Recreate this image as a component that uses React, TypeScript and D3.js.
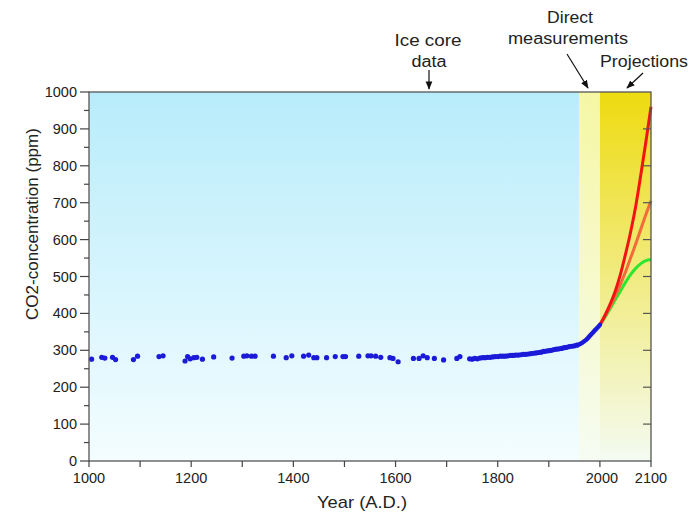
import React from 'react';
import * as d3 from 'd3';

// ice core samples (year, ppm)
const iceYears = [1005, 1025, 1031, 1046, 1052, 1087, 1095, 1137, 1145, 1188, 1193, 1198, 1205, 1211, 1222, 1244, 1280, 1303, 1309, 1318, 1325, 1361, 1386, 1397, 1420, 1430, 1440, 1446, 1465, 1482, 1497, 1502, 1528, 1546, 1552, 1561, 1571, 1589, 1595, 1605, 1635, 1646, 1654, 1662, 1676, 1694, 1720, 1726];
const icePpm = [276, 281, 279, 281, 275, 275, 284, 283, 285, 271, 283, 277, 280, 281, 276, 282, 279, 284, 285, 284, 284, 284, 280, 285, 284, 287, 280, 280, 280, 283, 283, 283, 284, 285, 285, 284, 281, 280, 278, 269, 278, 278, 285, 280, 278, 274, 278, 283];

// dense ice core / firn record
const firnYears = [1745, 1750, 1755, 1760, 1765, 1770, 1775, 1780, 1785, 1790, 1795, 1800, 1805, 1810, 1815, 1820, 1825, 1830, 1835, 1840, 1845, 1850, 1855, 1860, 1865, 1870, 1875, 1880, 1885, 1890, 1895, 1900, 1905, 1910, 1915, 1920, 1925, 1930, 1935, 1940, 1945, 1950, 1955];
const firnPpm = [277, 276, 278, 277, 279, 280, 280, 281, 281, 282, 283, 283, 284, 284, 284, 285, 286, 286, 287, 287, 288, 289, 289, 290, 291, 292, 293, 294, 295, 297, 298, 299, 300, 302, 303, 304, 305, 307, 308, 310, 311, 312, 314];

// direct measurements
const directYears = [1958, 1965, 1970, 1975, 1980, 1985, 1990, 1995, 2000];
const directPpm = [315, 320, 325, 331, 339, 346, 354, 361, 369];

// projections
const projYears = [2000, 2010, 2020, 2030, 2040, 2050, 2060, 2070, 2080, 2090, 2100];
const highPpm = [369, 395, 425, 460, 505, 560, 620, 690, 775, 865, 960];
const midPpm = [369, 392, 418, 447, 478, 512, 550, 588, 628, 668, 705];
const lowPpm = [369, 390, 413, 437, 460, 484, 505, 522, 535, 543, 546];

const xTicks = [1000, 1200, 1400, 1600, 1800, 2000, 2100];
const xMinor = [1000, 1100, 1200, 1300, 1400, 1500, 1600, 1700, 1800, 1900, 2000, 2100];
const yTicks = [0, 100, 200, 300, 400, 500, 600, 700, 800, 900, 1000];
const yMinor = [50, 150, 250, 350, 450, 550, 650, 750, 850, 950];

const font = 'Liberation Sans, Arial, sans-serif';

export default function App() {
  const x = d3.scaleLinear().domain([1000, 2100]).range([89, 651]);
  const y = d3.scaleLinear().domain([0, 1000]).range([461, 92]);

  const line = d3.line<[number, number]>()
    .x(d => x(d[0]))
    .y(d => y(d[1]))
    .curve(d3.curveMonotoneX);

  const direct = directYears.map((yr, i) => [yr, directPpm[i]] as [number, number]);
  const proj = (vals: number[]) => projYears.map((yr, i) => [yr, vals[i]] as [number, number]);

  const top = y(1000), bottom = y(0);

  const label = (tx: number, ty: number, w: number, s: string) => (
    <text x={tx} y={ty} textAnchor="middle" fontSize={16} fill="#222"
      textLength={w} lengthAdjust="spacingAndGlyphs">{s}</text>
  );

  return (
    <svg width={691} height={514} style={{ position: 'absolute', left: 0, top: 0 }} fontFamily={font}>
      <defs>
        <linearGradient id="gBlue" x1="0" y1="0" x2="0" y2="1">
          <stop offset="0" stopColor="#b8ecfb" />
          <stop offset="1" stopColor="#f4fdff" />
        </linearGradient>
        <linearGradient id="gLight" x1="0" y1="0" x2="0" y2="1">
          <stop offset="0" stopColor="#f6f7a4" />
          <stop offset="1" stopColor="#f6fcf2" />
        </linearGradient>
        <linearGradient id="gDark" x1="0" y1="0" x2="0" y2="1">
          <stop offset="0" stopColor="#eedb10" />
          <stop offset="1" stopColor="#f4fbf2" />
        </linearGradient>
        <marker id="arr" viewBox="0 0 10 10" refX="9" refY="5" markerWidth="7" markerHeight="7" orient="auto">
          <path d="M0,1 L10,5 L0,9 z" fill="#111" />
        </marker>
      </defs>

      <rect x={x(1000)} y={top} width={x(1959) - x(1000)} height={bottom - top} fill="url(#gBlue)" />
      <rect x={x(1959)} y={top} width={x(2000) - x(1959)} height={bottom - top} fill="url(#gLight)" />
      <rect x={x(2000)} y={top} width={x(2100) - x(2000)} height={bottom - top} fill="url(#gDark)" />

      {/* projections */}
      <path d={line(proj(lowPpm)) || ''} fill="none" stroke="#2ee62e" strokeWidth={3} />
      <path d={line(proj(midPpm)) || ''} fill="none" stroke="#f36a3c" strokeWidth={3} />
      <path d={line(proj(highPpm)) || ''} fill="none" stroke="#f01414" strokeWidth={3} />

      {/* direct measurements */}
      <path d={line(direct) || ''} fill="none" stroke="#1a1ad8" strokeWidth={4.5} strokeLinecap="round" />

      {/* ice core dots */}
      {firnYears.map((yr, i) => (
        <circle key={'f' + i} cx={x(yr)} cy={y(firnPpm[i])} r={2.6} fill="#1a1ad8" />
      ))}
      {iceYears.map((yr, i) => (
        <circle key={'i' + i} cx={x(yr)} cy={y(icePpm[i])} r={2.6} fill="#1a1ad8" />
      ))}

      {/* frame */}
      <rect x={x(1000)} y={top} width={x(2100) - x(1000)} height={bottom - top} fill="none" stroke="#555" strokeWidth={1.3} />

      {/* left axis */}
      {yTicks.map(t => (
        <g key={'yt' + t}>
          <line x1={x(1000) - 9} x2={x(1000)} y1={y(t)} y2={y(t)} stroke="#444" strokeWidth={1.2} />
          <text x={77} y={y(t) + 5} textAnchor="end" fontSize={14.5} fill="#222">{t}</text>
        </g>
      ))}
      {yMinor.map(t => (
        <line key={'ym' + t} x1={x(1000) - 5} x2={x(1000)} y1={y(t)} y2={y(t)} stroke="#444" strokeWidth={1.2} />
      ))}

      {/* right axis ticks */}
      {yTicks.slice(1, -1).map(t => (
        <line key={'yr' + t} x1={x(2100) - 8} x2={x(2100)} y1={y(t)} y2={y(t)} stroke="#555" strokeWidth={1.2} />
      ))}

      {/* bottom axis */}
      {xMinor.map(t => (
        <line key={'xm' + t} x1={x(t)} x2={x(t)} y1={bottom} y2={bottom + 6} stroke="#444" strokeWidth={1.2} />
      ))}
      {xTicks.map(t => (
        <text key={'xt' + t} x={x(t) + (t === 2000 ? 2 : 0)} y={483} textAnchor="middle" fontSize={14.5} fill="#222">{t}</text>
      ))}

      <text x={362} y={508} textAnchor="middle" fontSize={17} fill="#222" textLength={90} lengthAdjust="spacingAndGlyphs">Year (A.D.)</text>
      <text transform={`translate(38,${224}) rotate(-90)`} textAnchor="middle" fontSize={17} fill="#222">CO2-concentration (ppm)</text>

      {/* annotations */}
      {label(428, 46, 67, 'Ice core')}
      {label(429, 67, 35, 'data')}
      <line x1={429} y1={70} x2={429} y2={89} stroke="#111" strokeWidth={1.2} markerEnd="url(#arr)" />

      {label(570, 23, 46, 'Direct')}
      {label(568, 44, 120, 'measurements')}
      <line x1={567} y1={54} x2={588} y2={88} stroke="#111" strokeWidth={1.2} markerEnd="url(#arr)" />

      {label(644, 67, 88, 'Projections')}
      <line x1={643} y1={73} x2={627} y2={88} stroke="#111" strokeWidth={1.2} markerEnd="url(#arr)" />
    </svg>
  );
}
